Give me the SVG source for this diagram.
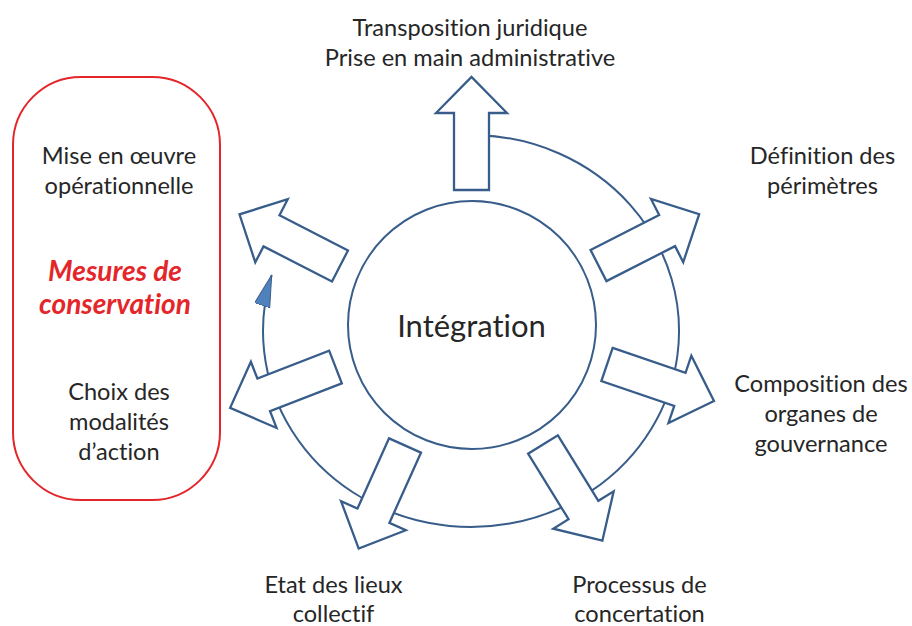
<svg xmlns="http://www.w3.org/2000/svg" width="912" height="626" viewBox="0 0 912 626">
  <style>
    text { font-variant-ligatures: none; font-feature-settings: "liga" 0; }
    .lbl { font-family: Lato, "Liberation Sans", sans-serif; font-size: 23.6px; fill: #262626; text-anchor: middle; }
    .key { font-family: Lato, "Liberation Sans", sans-serif; font-size: 28px; font-weight: bold; font-style: italic; fill: #e4262a; text-anchor: middle; }
    .ctr { font-family: Lato, "Liberation Sans", sans-serif; font-size: 31px; fill: #262626; text-anchor: middle; }
    .blk { fill: #ffffff; stroke: #385d8a; stroke-width: 2.3; stroke-linejoin: miter; }
    .ring { fill: none; stroke: #385d8a; stroke-width: 2; }
  </style>
  <defs>
    <polygon id="blockArrow" points="0,-17.5 77,-17.5 77,-35.5 113,0 77,35.5 77,17.5 0,17.5"/>
    <marker id="tri" markerUnits="userSpaceOnUse" markerWidth="34" markerHeight="18" refX="32" refY="8" orient="auto">
      <path d="M0,0 L32,8 L0,16 Z" fill="#4f81bd" stroke="#385d8a" stroke-width="1"/>
    </marker>
  </defs>
  <rect width="912" height="626" fill="#ffffff"/>

  <g id="connectors">
    <path class="ring" d="M480,135.2 A208,196 0 1 1 271.7,275" marker-end="url(#tri)"/>
  </g>

  <g id="center">
    <circle cx="472" cy="325" r="124" class="ring"/>
    <text class="ctr" x="471.5" y="337">Intégration</text>
  </g>

  <g id="group-conservation">
    <rect x="13" y="77" width="207" height="423" rx="68" ry="68" fill="none" stroke="#e4262a" stroke-width="2"/>
    <text class="key" x="115" y="281">Mesures de</text>
    <text class="key" x="115" y="314">conservation</text>
  </g>

  <g id="node-transposition">
    <use href="#blockArrow" class="blk" transform="translate(471.5,190) rotate(-90)"/>
    <text class="lbl" x="470" y="36">Transposition juridique</text>
    <text class="lbl" x="470" y="66">Prise en main administrative</text>
  </g>

  <g id="node-perimetres">
    <use href="#blockArrow" class="blk" transform="translate(598.5,265.5) rotate(-27)"/>
    <text class="lbl" x="822.5" y="164">Définition des</text>
    <text class="lbl" x="822.5" y="194">périmètres</text>
  </g>

  <g id="node-gouvernance">
    <use href="#blockArrow" class="blk" transform="translate(607,364.5) rotate(18.8)"/>
    <text class="lbl" x="821" y="392">Composition des</text>
    <text class="lbl" x="821" y="422">organes de</text>
    <text class="lbl" x="821" y="452">gouvernance</text>
  </g>

  <g id="node-concertation">
    <use href="#blockArrow" class="blk" transform="translate(543,444.5) rotate(58.3)"/>
    <text class="lbl" x="639.5" y="593">Processus de</text>
    <text class="lbl" x="639.5" y="622">concertation</text>
  </g>

  <g id="node-etat-des-lieux">
    <use href="#blockArrow" class="blk" transform="translate(405,445.5) rotate(114.2)"/>
    <text class="lbl" x="333.5" y="593">Etat des lieux</text>
    <text class="lbl" x="333.5" y="622">collectif</text>
  </g>

  <g id="node-modalites">
    <use href="#blockArrow" class="blk" transform="translate(335.5,367) rotate(158.8)"/>
    <text class="lbl" x="119" y="400">Choix des</text>
    <text class="lbl" x="119" y="430">modalités</text>
    <text class="lbl" x="119" y="460">d’action</text>
  </g>

  <g id="node-mise-en-oeuvre">
    <use href="#blockArrow" class="blk" transform="translate(340,266) rotate(-152.8)"/>
    <text class="lbl" x="119" y="164">Mise en œuvre</text>
    <text class="lbl" x="119" y="194">opérationnelle</text>
  </g>
</svg>
